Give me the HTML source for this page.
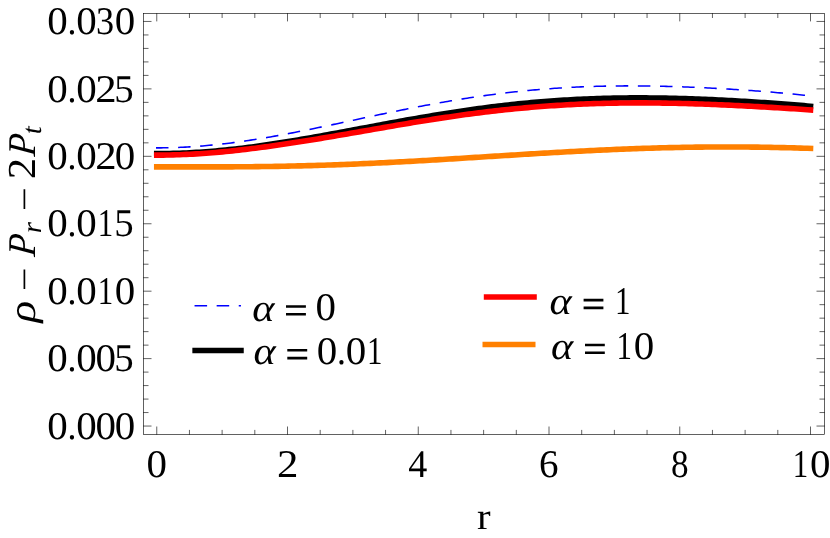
<!DOCTYPE html>
<html><head><meta charset="utf-8"><title>plot</title>
<style>html,body{margin:0;padding:0;background:#fff;}svg{display:block;will-change:transform;}text{font-family:"Liberation Serif",serif;fill:#000;text-rendering:geometricPrecision;}.it{font-style:italic;}</style></head><body>
<svg width="830" height="538" viewBox="0 0 830 538">
<rect x="0" y="0" width="830" height="538" fill="#ffffff"/>
<path d="M156.75,147.89 L158.94,147.89 L161.12,147.88 L163.31,147.85 L165.50,147.82 L167.68,147.78 L169.87,147.73 L172.06,147.67 L174.24,147.60 L176.43,147.53 L178.61,147.44 L180.80,147.35 L182.99,147.24 L185.17,147.13 L187.36,147.01 L189.55,146.88 L191.73,146.74 L193.92,146.60 L196.11,146.44 L198.29,146.28 L200.48,146.11 L202.67,145.93 L204.85,145.75 L207.04,145.55 L209.22,145.35 L211.41,145.14 L213.60,144.92 L215.78,144.70 L217.97,144.46 L220.16,144.22 L222.34,143.97 L224.53,143.72 L226.72,143.46 L228.90,143.19 L231.09,142.91 L233.28,142.63 L235.46,142.34 L237.65,142.05 L239.84,141.74 L242.02,141.44 L244.21,141.12 L246.39,140.80 L248.58,140.47 L250.77,140.14 L252.95,139.80 L255.14,139.46 L257.33,139.11 L259.51,138.76 L261.70,138.40 L263.89,138.03 L266.07,137.66 L268.26,137.28 L270.45,136.90 L272.63,136.52 L274.82,136.13 L277.01,135.74 L279.19,135.34 L281.38,134.94 L283.56,134.53 L285.75,134.12 L287.94,133.71 L290.12,133.29 L292.31,132.87 L294.50,132.44 L296.68,132.02 L298.87,131.59 L301.06,131.15 L303.24,130.72 L305.43,130.28 L307.62,129.83 L309.80,129.39 L311.99,128.94 L314.17,128.49 L316.36,128.04 L318.55,127.59 L320.73,127.13 L322.92,126.68 L325.11,126.22 L327.29,125.76 L329.48,125.30 L331.67,124.83 L333.85,124.37 L336.04,123.91 L338.23,123.44 L340.41,122.97 L342.60,122.51 L344.79,122.04 L346.97,121.57 L349.16,121.10 L351.34,120.63 L353.53,120.16 L355.72,119.70 L357.90,119.23 L360.09,118.76 L362.28,118.29 L364.46,117.82 L366.65,117.36 L368.84,116.89 L371.02,116.43 L373.21,115.96 L375.40,115.50 L377.58,115.04 L379.77,114.58 L381.95,114.12 L384.14,113.66 L386.33,113.20 L388.51,112.75 L390.70,112.29 L392.89,111.84 L395.07,111.39 L397.26,110.94 L399.45,110.50 L401.63,110.06 L403.82,109.62 L406.01,109.18 L408.19,108.74 L410.38,108.31 L412.57,107.88 L414.75,107.45 L416.94,107.02 L419.12,106.60 L421.31,106.18 L423.50,105.77 L425.68,105.35 L427.87,104.94 L430.06,104.54 L432.24,104.13 L434.43,103.73 L436.62,103.34 L438.80,102.95 L440.99,102.56 L443.18,102.17 L445.36,101.79 L447.55,101.41 L449.73,101.04 L451.92,100.67 L454.11,100.30 L456.29,99.94 L458.48,99.58 L460.67,99.22 L462.85,98.87 L465.04,98.53 L467.23,98.19 L469.41,97.85 L471.60,97.52 L473.79,97.19 L475.97,96.87 L478.16,96.55 L480.35,96.23 L482.53,95.92 L484.72,95.61 L486.90,95.31 L489.09,95.02 L491.28,94.72 L493.46,94.44 L495.65,94.15 L497.84,93.88 L500.02,93.60 L502.21,93.33 L504.40,93.07 L506.58,92.81 L508.77,92.56 L510.96,92.31 L513.14,92.06 L515.33,91.82 L517.52,91.59 L519.70,91.36 L521.89,91.13 L524.07,90.91 L526.26,90.70 L528.45,90.49 L530.63,90.28 L532.82,90.08 L535.01,89.89 L537.19,89.70 L539.38,89.51 L541.57,89.33 L543.75,89.15 L545.94,88.98 L548.13,88.82 L550.31,88.65 L552.50,88.50 L554.68,88.35 L556.87,88.20 L559.06,88.06 L561.24,87.92 L563.43,87.79 L565.62,87.66 L567.80,87.53 L569.99,87.42 L572.18,87.30 L574.36,87.19 L576.55,87.09 L578.74,86.99 L580.92,86.89 L583.11,86.80 L585.30,86.71 L587.48,86.63 L589.67,86.56 L591.85,86.48 L594.04,86.41 L596.23,86.35 L598.41,86.29 L600.60,86.23 L602.79,86.18 L604.97,86.13 L607.16,86.09 L609.35,86.05 L611.53,86.02 L613.72,85.98 L615.91,85.96 L618.09,85.93 L620.28,85.92 L622.46,85.90 L624.65,85.89 L626.84,85.88 L629.02,85.88 L631.21,85.88 L633.40,85.88 L635.58,85.89 L637.77,85.90 L639.96,85.92 L642.14,85.93 L644.33,85.96 L646.52,85.98 L648.70,86.01 L650.89,86.04 L653.08,86.08 L655.26,86.12 L657.45,86.16 L659.63,86.20 L661.82,86.25 L664.01,86.30 L666.19,86.36 L668.38,86.41 L670.57,86.47 L672.75,86.54 L674.94,86.60 L677.13,86.67 L679.31,86.75 L681.50,86.82 L683.69,86.90 L685.87,86.98 L688.06,87.06 L690.24,87.15 L692.43,87.24 L694.62,87.33 L696.80,87.43 L698.99,87.52 L701.18,87.62 L703.36,87.72 L705.55,87.83 L707.74,87.94 L709.92,88.05 L712.11,88.16 L714.30,88.27 L716.48,88.39 L718.67,88.51 L720.86,88.63 L723.04,88.75 L725.23,88.88 L727.41,89.01 L729.60,89.14 L731.79,89.28 L733.97,89.41 L736.16,89.55 L738.35,89.69 L740.53,89.84 L742.72,89.98 L744.91,90.13 L747.09,90.28 L749.28,90.43 L751.47,90.59 L753.65,90.75 L755.84,90.91 L758.03,91.07 L760.21,91.24 L762.40,91.41 L764.58,91.58 L766.77,91.75 L768.96,91.93 L771.14,92.11 L773.33,92.29 L775.52,92.48 L777.70,92.67 L779.89,92.86 L782.08,93.05 L784.26,93.25 L786.45,93.45 L788.64,93.66 L790.82,93.87 L793.01,94.08 L795.19,94.29 L797.38,94.51 L799.57,94.73 L801.75,94.96 L803.94,95.19 L806.13,95.42 L808.31,95.66 L810.50,95.91" fill="none" stroke="#0000ff" stroke-width="1.55" stroke-dasharray="10.968 11.168" stroke-linecap="square"/>
<path d="M156.75,153.63 L160.04,153.63 L163.32,153.60 L166.61,153.56 L169.89,153.50 L173.18,153.42 L176.46,153.32 L179.75,153.21 L183.03,153.08 L186.32,152.94 L189.60,152.78 L192.89,152.60 L196.17,152.41 L199.46,152.20 L202.74,151.98 L206.03,151.74 L209.31,151.48 L212.60,151.21 L215.88,150.93 L219.17,150.63 L222.45,150.32 L225.74,149.99 L229.02,149.65 L232.31,149.30 L235.59,148.93 L238.88,148.55 L242.16,148.16 L245.45,147.76 L248.73,147.34 L252.02,146.92 L255.31,146.48 L258.59,146.03 L261.88,145.57 L265.16,145.10 L268.45,144.62 L271.73,144.14 L275.02,143.64 L278.30,143.13 L281.59,142.62 L284.87,142.09 L288.16,141.56 L291.44,141.02 L294.73,140.48 L298.01,139.93 L301.30,139.37 L304.58,138.80 L307.87,138.23 L311.15,137.66 L314.44,137.08 L317.72,136.49 L321.01,135.90 L324.29,135.31 L327.58,134.71 L330.86,134.11 L334.15,133.51 L337.43,132.90 L340.72,132.29 L344.01,131.68 L347.29,131.07 L350.58,130.45 L353.86,129.84 L357.15,129.22 L360.43,128.61 L363.72,127.99 L367.00,127.38 L370.29,126.76 L373.57,126.15 L376.86,125.54 L380.14,124.93 L383.43,124.32 L386.71,123.71 L390.00,123.11 L393.28,122.51 L396.57,121.91 L399.85,121.31 L403.14,120.72 L406.42,120.13 L409.71,119.55 L412.99,118.97 L416.28,118.39 L419.56,117.82 L422.85,117.26 L426.13,116.69 L429.42,116.14 L432.70,115.59 L435.99,115.05 L439.28,114.51 L442.56,113.98 L445.85,113.46 L449.13,112.94 L452.42,112.43 L455.70,111.93 L458.99,111.43 L462.27,110.94 L465.56,110.46 L468.84,109.99 L472.13,109.52 L475.41,109.06 L478.70,108.61 L481.98,108.17 L485.27,107.74 L488.55,107.32 L491.84,106.90 L495.12,106.50 L498.41,106.10 L501.69,105.71 L504.98,105.33 L508.26,104.96 L511.55,104.60 L514.83,104.25 L518.12,103.91 L521.40,103.57 L524.69,103.25 L527.97,102.94 L531.26,102.63 L534.55,102.34 L537.83,102.05 L541.12,101.78 L544.40,101.51 L547.69,101.26 L550.97,101.01 L554.26,100.77 L557.54,100.55 L560.83,100.33 L564.11,100.12 L567.40,99.92 L570.68,99.74 L573.97,99.56 L577.25,99.39 L580.54,99.23 L583.82,99.08 L587.11,98.94 L590.39,98.80 L593.68,98.68 L596.96,98.57 L600.25,98.46 L603.53,98.37 L606.82,98.28 L610.10,98.21 L613.39,98.14 L616.67,98.08 L619.96,98.03 L623.24,97.98 L626.53,97.95 L629.82,97.92 L633.10,97.91 L636.39,97.90 L639.67,97.89 L642.96,97.90 L646.24,97.91 L649.53,97.94 L652.81,97.97 L656.10,98.00 L659.38,98.05 L662.67,98.10 L665.95,98.16 L669.24,98.22 L672.52,98.29 L675.81,98.37 L679.09,98.46 L682.38,98.55 L685.66,98.65 L688.95,98.75 L692.23,98.86 L695.52,98.98 L698.80,99.10 L702.09,99.23 L705.37,99.37 L708.66,99.51 L711.94,99.65 L715.23,99.80 L718.52,99.96 L721.80,100.12 L725.09,100.29 L728.37,100.46 L731.66,100.63 L734.94,100.81 L738.23,101.00 L741.51,101.19 L744.80,101.38 L748.08,101.58 L751.37,101.79 L754.65,101.99 L757.94,102.21 L761.22,102.42 L764.51,102.64 L767.79,102.87 L771.08,103.10 L774.36,103.33 L777.65,103.57 L780.93,103.81 L784.22,104.06 L787.50,104.31 L790.79,104.57 L794.07,104.83 L797.36,105.09 L800.64,105.36 L803.93,105.64 L807.21,105.92 L810.50,106.20" fill="none" stroke="#000000" stroke-width="5.6" stroke-linecap="square" stroke-linejoin="round"/>
<path d="M156.75,155.13 L160.04,155.12 L163.32,155.09 L166.61,155.05 L169.89,154.98 L173.18,154.91 L176.46,154.81 L179.75,154.70 L183.03,154.57 L186.32,154.42 L189.60,154.26 L192.89,154.09 L196.17,153.89 L199.46,153.69 L202.74,153.47 L206.03,153.23 L209.31,152.98 L212.60,152.72 L215.88,152.44 L219.17,152.15 L222.45,151.85 L225.74,151.53 L229.02,151.20 L232.31,150.86 L235.59,150.51 L238.88,150.15 L242.16,149.77 L245.45,149.39 L248.73,148.99 L252.02,148.59 L255.31,148.18 L258.59,147.75 L261.88,147.32 L265.16,146.88 L268.45,146.43 L271.73,145.98 L275.02,145.51 L278.30,145.04 L281.59,144.56 L284.87,144.08 L288.16,143.58 L291.44,143.09 L294.73,142.58 L298.01,142.07 L301.30,141.56 L304.58,141.04 L307.87,140.51 L311.15,139.98 L314.44,139.45 L317.72,138.91 L321.01,138.37 L324.29,137.82 L327.58,137.27 L330.86,136.72 L334.15,136.16 L337.43,135.60 L340.72,135.04 L344.01,134.48 L347.29,133.91 L350.58,133.34 L353.86,132.77 L357.15,132.20 L360.43,131.63 L363.72,131.06 L367.00,130.49 L370.29,129.91 L373.57,129.34 L376.86,128.77 L380.14,128.19 L383.43,127.62 L386.71,127.05 L390.00,126.48 L393.28,125.92 L396.57,125.35 L399.85,124.79 L403.14,124.23 L406.42,123.68 L409.71,123.13 L412.99,122.58 L416.28,122.04 L419.56,121.50 L422.85,120.96 L426.13,120.43 L429.42,119.91 L432.70,119.39 L435.99,118.88 L439.28,118.37 L442.56,117.87 L445.85,117.38 L449.13,116.90 L452.42,116.42 L455.70,115.94 L458.99,115.48 L462.27,115.02 L465.56,114.57 L468.84,114.13 L472.13,113.69 L475.41,113.27 L478.70,112.85 L481.98,112.44 L485.27,112.04 L488.55,111.64 L491.84,111.26 L495.12,110.88 L498.41,110.51 L501.69,110.15 L504.98,109.80 L508.26,109.46 L511.55,109.13 L514.83,108.80 L518.12,108.48 L521.40,108.18 L524.69,107.88 L527.97,107.59 L531.26,107.31 L534.55,107.04 L537.83,106.77 L541.12,106.52 L544.40,106.27 L547.69,106.04 L550.97,105.81 L554.26,105.59 L557.54,105.38 L560.83,105.18 L564.11,104.99 L567.40,104.81 L570.68,104.63 L573.97,104.47 L577.25,104.31 L580.54,104.16 L583.82,104.02 L587.11,103.89 L590.39,103.77 L593.68,103.66 L596.96,103.55 L600.25,103.45 L603.53,103.36 L606.82,103.28 L610.10,103.21 L613.39,103.15 L616.67,103.09 L619.96,103.04 L623.24,103.00 L626.53,102.97 L629.82,102.94 L633.10,102.92 L636.39,102.91 L639.67,102.91 L642.96,102.91 L646.24,102.92 L649.53,102.94 L652.81,102.96 L656.10,102.99 L659.38,103.03 L662.67,103.08 L665.95,103.13 L669.24,103.18 L672.52,103.25 L675.81,103.32 L679.09,103.39 L682.38,103.47 L685.66,103.56 L688.95,103.65 L692.23,103.75 L695.52,103.85 L698.80,103.96 L702.09,104.07 L705.37,104.19 L708.66,104.31 L711.94,104.44 L715.23,104.57 L718.52,104.71 L721.80,104.85 L725.09,104.99 L728.37,105.14 L731.66,105.30 L734.94,105.45 L738.23,105.61 L741.51,105.78 L744.80,105.95 L748.08,106.12 L751.37,106.29 L754.65,106.47 L757.94,106.65 L761.22,106.83 L764.51,107.02 L767.79,107.21 L771.08,107.40 L774.36,107.60 L777.65,107.80 L780.93,108.00 L784.22,108.20 L787.50,108.40 L790.79,108.61 L794.07,108.82 L797.36,109.04 L800.64,109.25 L803.93,109.47 L807.21,109.69 L810.50,109.91" fill="none" stroke="#ff0000" stroke-width="5.6" stroke-linecap="square" stroke-linejoin="round"/>
<path d="M156.75,166.84 L160.04,166.84 L163.32,166.84 L166.61,166.84 L169.89,166.85 L173.18,166.85 L176.46,166.86 L179.75,166.86 L183.03,166.87 L186.32,166.87 L189.60,166.88 L192.89,166.88 L196.17,166.88 L199.46,166.89 L202.74,166.89 L206.03,166.89 L209.31,166.89 L212.60,166.88 L215.88,166.88 L219.17,166.87 L222.45,166.86 L225.74,166.85 L229.02,166.84 L232.31,166.83 L235.59,166.81 L238.88,166.79 L242.16,166.77 L245.45,166.74 L248.73,166.71 L252.02,166.68 L255.31,166.65 L258.59,166.61 L261.88,166.57 L265.16,166.53 L268.45,166.48 L271.73,166.43 L275.02,166.38 L278.30,166.33 L281.59,166.27 L284.87,166.20 L288.16,166.14 L291.44,166.07 L294.73,165.99 L298.01,165.92 L301.30,165.84 L304.58,165.76 L307.87,165.67 L311.15,165.58 L314.44,165.48 L317.72,165.39 L321.01,165.29 L324.29,165.18 L327.58,165.07 L330.86,164.96 L334.15,164.85 L337.43,164.73 L340.72,164.61 L344.01,164.48 L347.29,164.36 L350.58,164.22 L353.86,164.09 L357.15,163.95 L360.43,163.81 L363.72,163.67 L367.00,163.52 L370.29,163.37 L373.57,163.22 L376.86,163.06 L380.14,162.90 L383.43,162.74 L386.71,162.58 L390.00,162.41 L393.28,162.24 L396.57,162.07 L399.85,161.90 L403.14,161.72 L406.42,161.54 L409.71,161.36 L412.99,161.18 L416.28,160.99 L419.56,160.81 L422.85,160.62 L426.13,160.43 L429.42,160.23 L432.70,160.04 L435.99,159.85 L439.28,159.65 L442.56,159.45 L445.85,159.25 L449.13,159.05 L452.42,158.85 L455.70,158.64 L458.99,158.44 L462.27,158.24 L465.56,158.03 L468.84,157.82 L472.13,157.62 L475.41,157.41 L478.70,157.20 L481.98,157.00 L485.27,156.79 L488.55,156.58 L491.84,156.37 L495.12,156.16 L498.41,155.96 L501.69,155.75 L504.98,155.54 L508.26,155.34 L511.55,155.13 L514.83,154.93 L518.12,154.72 L521.40,154.52 L524.69,154.31 L527.97,154.11 L531.26,153.91 L534.55,153.71 L537.83,153.52 L541.12,153.32 L544.40,153.13 L547.69,152.93 L550.97,152.74 L554.26,152.55 L557.54,152.36 L560.83,152.18 L564.11,151.99 L567.40,151.81 L570.68,151.63 L573.97,151.46 L577.25,151.28 L580.54,151.11 L583.82,150.94 L587.11,150.77 L590.39,150.61 L593.68,150.45 L596.96,150.29 L600.25,150.13 L603.53,149.98 L606.82,149.83 L610.10,149.68 L613.39,149.54 L616.67,149.40 L619.96,149.26 L623.24,149.13 L626.53,149.00 L629.82,148.87 L633.10,148.75 L636.39,148.63 L639.67,148.51 L642.96,148.40 L646.24,148.30 L649.53,148.19 L652.81,148.09 L656.10,148.00 L659.38,147.90 L662.67,147.82 L665.95,147.73 L669.24,147.65 L672.52,147.58 L675.81,147.51 L679.09,147.44 L682.38,147.38 L685.66,147.32 L688.95,147.27 L692.23,147.22 L695.52,147.17 L698.80,147.13 L702.09,147.09 L705.37,147.06 L708.66,147.03 L711.94,147.01 L715.23,146.99 L718.52,146.98 L721.80,146.97 L725.09,146.97 L728.37,146.97 L731.66,146.97 L734.94,146.98 L738.23,146.99 L741.51,147.01 L744.80,147.03 L748.08,147.06 L751.37,147.09 L754.65,147.13 L757.94,147.17 L761.22,147.21 L764.51,147.26 L767.79,147.32 L771.08,147.37 L774.36,147.44 L777.65,147.50 L780.93,147.58 L784.22,147.65 L787.50,147.73 L790.79,147.81 L794.07,147.90 L797.36,147.99 L800.64,148.09 L803.93,148.19 L807.21,148.29 L810.50,148.40" fill="none" stroke="#ff8000" stroke-width="5.6" stroke-linecap="square" stroke-linejoin="round"/>
<g stroke="#000000" stroke-width="0.62" fill="none">
<rect x="143.5" y="13.5" width="681.0" height="420.9"/>
<path d="M156.75,434.71 v-8.21 M156.75,13.19 v8.21"/>
<path d="M189.44,434.71 v-4.81 M189.44,13.19 v4.81"/>
<path d="M222.12,434.71 v-4.81 M222.12,13.19 v4.81"/>
<path d="M254.81,434.71 v-4.81 M254.81,13.19 v4.81"/>
<path d="M287.50,434.71 v-8.21 M287.50,13.19 v8.21"/>
<path d="M320.19,434.71 v-4.81 M320.19,13.19 v4.81"/>
<path d="M352.88,434.71 v-4.81 M352.88,13.19 v4.81"/>
<path d="M385.56,434.71 v-4.81 M385.56,13.19 v4.81"/>
<path d="M418.25,434.71 v-8.21 M418.25,13.19 v8.21"/>
<path d="M450.94,434.71 v-4.81 M450.94,13.19 v4.81"/>
<path d="M483.62,434.71 v-4.81 M483.62,13.19 v4.81"/>
<path d="M516.31,434.71 v-4.81 M516.31,13.19 v4.81"/>
<path d="M549.00,434.71 v-8.21 M549.00,13.19 v8.21"/>
<path d="M581.69,434.71 v-4.81 M581.69,13.19 v4.81"/>
<path d="M614.38,434.71 v-4.81 M614.38,13.19 v4.81"/>
<path d="M647.06,434.71 v-4.81 M647.06,13.19 v4.81"/>
<path d="M679.75,434.71 v-8.21 M679.75,13.19 v8.21"/>
<path d="M712.44,434.71 v-4.81 M712.44,13.19 v4.81"/>
<path d="M745.12,434.71 v-4.81 M745.12,13.19 v4.81"/>
<path d="M777.81,434.71 v-4.81 M777.81,13.19 v4.81"/>
<path d="M810.50,434.71 v-8.21 M810.50,13.19 v8.21"/>
<path d="M143.19,426.05 h8.31 M824.81,426.05 h-8.31"/>
<path d="M143.19,412.56 h5.31 M824.81,412.56 h-5.31"/>
<path d="M143.19,399.08 h5.31 M824.81,399.08 h-5.31"/>
<path d="M143.19,385.59 h5.31 M824.81,385.59 h-5.31"/>
<path d="M143.19,372.10 h5.31 M824.81,372.10 h-5.31"/>
<path d="M143.19,358.62 h8.31 M824.81,358.62 h-8.31"/>
<path d="M143.19,345.13 h5.31 M824.81,345.13 h-5.31"/>
<path d="M143.19,331.64 h5.31 M824.81,331.64 h-5.31"/>
<path d="M143.19,318.16 h5.31 M824.81,318.16 h-5.31"/>
<path d="M143.19,304.67 h5.31 M824.81,304.67 h-5.31"/>
<path d="M143.19,291.18 h8.31 M824.81,291.18 h-8.31"/>
<path d="M143.19,277.70 h5.31 M824.81,277.70 h-5.31"/>
<path d="M143.19,264.21 h5.31 M824.81,264.21 h-5.31"/>
<path d="M143.19,250.72 h5.31 M824.81,250.72 h-5.31"/>
<path d="M143.19,237.24 h5.31 M824.81,237.24 h-5.31"/>
<path d="M143.19,223.75 h8.31 M824.81,223.75 h-8.31"/>
<path d="M143.19,210.26 h5.31 M824.81,210.26 h-5.31"/>
<path d="M143.19,196.78 h5.31 M824.81,196.78 h-5.31"/>
<path d="M143.19,183.29 h5.31 M824.81,183.29 h-5.31"/>
<path d="M143.19,169.80 h5.31 M824.81,169.80 h-5.31"/>
<path d="M143.19,156.32 h8.31 M824.81,156.32 h-8.31"/>
<path d="M143.19,142.83 h5.31 M824.81,142.83 h-5.31"/>
<path d="M143.19,129.34 h5.31 M824.81,129.34 h-5.31"/>
<path d="M143.19,115.86 h5.31 M824.81,115.86 h-5.31"/>
<path d="M143.19,102.37 h5.31 M824.81,102.37 h-5.31"/>
<path d="M143.19,88.88 h8.31 M824.81,88.88 h-8.31"/>
<path d="M143.19,75.40 h5.31 M824.81,75.40 h-5.31"/>
<path d="M143.19,61.91 h5.31 M824.81,61.91 h-5.31"/>
<path d="M143.19,48.42 h5.31 M824.81,48.42 h-5.31"/>
<path d="M143.19,34.94 h5.31 M824.81,34.94 h-5.31"/>
<path d="M143.19,21.45 h8.31 M824.81,21.45 h-8.31"/>
</g>
<text transform="translate(47.36,438.75) scale(1.064,1.02)" font-size="38.5">0</text><text transform="translate(67.61,438.75) scale(0.925,1.02)" font-size="38.5">.</text><text transform="translate(76.24,438.75) scale(1.064,1.02)" font-size="38.5">0</text><text transform="translate(95.49,438.75) scale(1.064,1.02)" font-size="38.5">0</text><text transform="translate(114.74,438.75) scale(1.064,1.02)" font-size="38.5">0</text>
<text transform="translate(47.36,371.32) scale(1.064,1.02)" font-size="38.5">0</text><text transform="translate(67.61,371.32) scale(0.925,1.02)" font-size="38.5">.</text><text transform="translate(76.24,371.32) scale(1.064,1.02)" font-size="38.5">0</text><text transform="translate(95.49,371.32) scale(1.064,1.02)" font-size="38.5">0</text><text transform="translate(114.35,371.32) scale(1.009,1.02)" font-size="38.5">5</text>
<text transform="translate(47.36,303.88) scale(1.064,1.02)" font-size="38.5">0</text><text transform="translate(67.61,303.88) scale(0.925,1.02)" font-size="38.5">.</text><text transform="translate(76.24,303.88) scale(1.064,1.02)" font-size="38.5">0</text><text transform="translate(97.67,303.88) scale(0.803,1.02)" font-size="38.5">1</text><text transform="translate(114.74,303.88) scale(1.064,1.02)" font-size="38.5">0</text>
<text transform="translate(47.36,236.45) scale(1.064,1.02)" font-size="38.5">0</text><text transform="translate(67.61,236.45) scale(0.925,1.02)" font-size="38.5">.</text><text transform="translate(76.24,236.45) scale(1.064,1.02)" font-size="38.5">0</text><text transform="translate(97.67,236.45) scale(0.803,1.02)" font-size="38.5">1</text><text transform="translate(114.35,236.45) scale(1.009,1.02)" font-size="38.5">5</text>
<text transform="translate(47.36,169.02) scale(1.064,1.02)" font-size="38.5">0</text><text transform="translate(67.61,169.02) scale(0.925,1.02)" font-size="38.5">.</text><text transform="translate(76.24,169.02) scale(1.064,1.02)" font-size="38.5">0</text><text transform="translate(95.33,169.02) scale(1.112,1.02)" font-size="38.5">2</text><text transform="translate(114.74,169.02) scale(1.064,1.02)" font-size="38.5">0</text>
<text transform="translate(47.36,101.58) scale(1.064,1.02)" font-size="38.5">0</text><text transform="translate(67.61,101.58) scale(0.925,1.02)" font-size="38.5">.</text><text transform="translate(76.24,101.58) scale(1.064,1.02)" font-size="38.5">0</text><text transform="translate(95.33,101.58) scale(1.112,1.02)" font-size="38.5">2</text><text transform="translate(114.35,101.58) scale(1.009,1.02)" font-size="38.5">5</text>
<text transform="translate(47.36,34.15) scale(1.064,1.02)" font-size="38.5">0</text><text transform="translate(67.61,34.15) scale(0.925,1.02)" font-size="38.5">.</text><text transform="translate(76.24,34.15) scale(1.064,1.02)" font-size="38.5">0</text><text transform="translate(96.04,34.15) scale(0.941,1.02)" font-size="38.5">3</text><text transform="translate(114.74,34.15) scale(1.064,1.02)" font-size="38.5">0</text>
<text transform="translate(146.51,477.30) scale(1.064,1.02)" font-size="38.5">0</text>
<text transform="translate(277.10,477.30) scale(1.112,1.02)" font-size="38.5">2</text>
<text transform="translate(408.33,477.30) scale(0.989,1.02)" font-size="38.5">4</text>
<text transform="translate(539.02,477.30) scale(1.015,1.02)" font-size="38.5">6</text>
<text transform="translate(670.96,477.30) scale(0.915,1.02)" font-size="38.5">8</text>
<text transform="translate(792.82,477.30) scale(0.803,1.02)" font-size="38.5">1</text><text transform="translate(809.89,477.30) scale(1.064,1.02)" font-size="38.5">0</text>
<text transform="translate(483.90,529.00) scale(1.06,0.97)" font-size="38.5" text-anchor="middle">r</text>
<g transform="rotate(-90)">
<text transform="translate(-311.60,34.90) scale(1.17,1.0)" font-size="38.5" text-anchor="middle" class="it">ρ</text>
<text transform="translate(-246.00,34.90) scale(0.94,1.02) skewX(-6)" font-size="38.5" text-anchor="middle" class="it">P</text>
<text transform="translate(-227.60,41.00) scale(1.05,1.0)" font-size="27.5" text-anchor="middle" class="it">r</text>
<text transform="translate(-168.50,34.90) scale(1.11,1.03)" font-size="38.5" text-anchor="middle">2</text>
<text transform="translate(-145.60,34.90) scale(0.94,1.02) skewX(-6)" font-size="38.5" text-anchor="middle" class="it">P</text>
<text transform="translate(-130.30,41.00) scale(1.05,1.0)" font-size="27.5" text-anchor="middle" class="it">t</text>
</g>
<path d="M24.4,288.9 V269.6 M24.4,208.9 V189.2" stroke="#000" stroke-width="1.7" fill="none"/>
<path d="M195.3,305.75 H240.2" stroke="#0000ff" stroke-width="1.5" stroke-dasharray="11.05 11.05" stroke-linecap="square" fill="none"/>
<path d="M195.2,350.5 H240.9" stroke="#000" stroke-width="5.7" stroke-linecap="square" fill="none"/>
<path d="M486.5,297.05 H534.1" stroke="#ff0000" stroke-width="5.4" stroke-linecap="square" fill="none"/>
<path d="M485.2,344.55 H532.8" stroke="#ff8000" stroke-width="5.4" stroke-linecap="square" fill="none"/>
<text transform="translate(263.30,320.65) scale(1.1,1.0)" font-size="38.5" text-anchor="middle" class="it">α</text><path d="M286.0,306.50 H305.9 M286.0,314.30 H305.9" stroke="#000" stroke-width="2.6" fill="none"/><text transform="translate(315.49,320.30) scale(1.064,1.02)" font-size="38.5">0</text>
<text transform="translate(264.70,364.45) scale(1.1,1.0)" font-size="38.5" text-anchor="middle" class="it">α</text><path d="M287.3,350.30 H307.2 M287.3,358.10 H307.2" stroke="#000" stroke-width="2.6" fill="none"/><text transform="translate(316.79,364.10) scale(1.064,1.02)" font-size="38.5">0</text><text transform="translate(337.03,364.10) scale(0.925,1.02)" font-size="38.5">.</text><text transform="translate(345.66,364.10) scale(1.064,1.02)" font-size="38.5">0</text><text transform="translate(367.09,364.10) scale(0.803,1.02)" font-size="38.5">1</text>
<text transform="translate(560.70,314.25) scale(1.1,1.0)" font-size="38.5" text-anchor="middle" class="it">α</text><path d="M583.6,300.10 H603.4 M583.6,307.90 H603.4" stroke="#000" stroke-width="2.6" fill="none"/><text transform="translate(614.97,313.90) scale(0.803,1.02)" font-size="38.5">1</text>
<text transform="translate(562.00,359.15) scale(1.1,1.0)" font-size="38.5" text-anchor="middle" class="it">α</text><path d="M585.0,345.00 H604.8 M585.0,352.80 H604.8" stroke="#000" stroke-width="2.6" fill="none"/><text transform="translate(616.57,358.80) scale(0.803,1.02)" font-size="38.5">1</text><text transform="translate(633.64,358.80) scale(1.064,1.02)" font-size="38.5">0</text>
</svg></body></html>
